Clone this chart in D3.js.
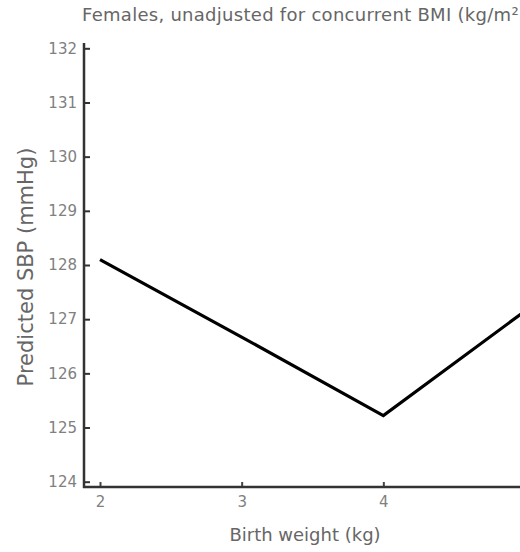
<!DOCTYPE html>
<html>
<head>
<meta charset="utf-8">
<script src="https://cdn.jsdelivr.net/npm/d3@7"></script>
<style>
  html, body { margin: 0; padding: 0; background: #fff; overflow: hidden; }
  svg { display: block; }
</style>
</head>
<body>
<svg id="chart" width="520" height="552"></svg>
<script>
// ---- data ----
const birthWeight = [2, 3, 4, 5];
const predictedSBP = [128.1, 126.67, 125.22, 127.15];
const xTicks = [2, 3, 4, 5];
const yTicks = [124, 125, 126, 127, 128, 129, 130, 131, 132];
const titleText = "Females, unadjusted for concurrent BMI (kg/m\u00B2)";
const xLabel = "Birth weight (kg)";
const yLabel = "Predicted SBP (mmHg)";

const svg = d3.select("#chart");
const font = "'DejaVu Sans', sans-serif";

const x = d3.scaleLinear().domain([2, 5]).range([100, 525]);
const y = d3.scaleLinear().domain([124, 132]).range([481.7, 48.3]);

const axisX0 = 84, axisY0 = 487;

// y axis
const gy = svg.append("g").attr("transform", `translate(${axisX0},0)`)
  .call(d3.axisLeft(y).tickValues(yTicks).tickFormat(d3.format("d")).tickSize(-6).tickPadding(7));
gy.select(".domain").remove();
gy.selectAll(".tick line").attr("stroke", "#333").attr("stroke-width", 2);
gy.selectAll(".tick text").attr("font-family", font).attr("font-size", 15).attr("fill", "#808080");

// x axis
const gx = svg.append("g").attr("transform", `translate(0,${axisY0})`)
  .call(d3.axisBottom(x).tickValues(xTicks).tickFormat(d3.format("d")).tickSize(-5).tickPadding(9));
gx.select(".domain").remove();
gx.selectAll(".tick line").attr("stroke", "#444").attr("stroke-width", 2);
gx.selectAll(".tick text").attr("font-family", font).attr("font-size", 15).attr("fill", "#808080");

// axis lines
svg.append("line").attr("x1", axisX0).attr("x2", axisX0).attr("y1", 43).attr("y2", axisY0 + 1)
  .attr("stroke", "#333").attr("stroke-width", 2.5);
svg.append("line").attr("x1", axisX0 - 1).attr("x2", 520).attr("y1", axisY0).attr("y2", axisY0)
  .attr("stroke", "#333").attr("stroke-width", 2.5);

// data line
const pts = birthWeight.map((d, i) => [d, predictedSBP[i]]);
svg.append("path")
  .datum(pts)
  .attr("fill", "none")
  .attr("stroke", "#000")
  .attr("stroke-width", 3.2)
  .attr("stroke-linejoin", "miter")
  .attr("d", d3.line().x(d => x(d[0])).y(d => y(d[1])));

// title
svg.append("text").attr("x", 82).attr("y", 21)
  .attr("font-family", font).attr("font-size", 18).attr("fill", "#666")
  .attr("letter-spacing", 0.28)
  .text(titleText);

// x label
svg.append("text").attr("x", 305).attr("y", 541).attr("text-anchor", "middle")
  .attr("font-family", font).attr("font-size", 18).attr("fill", "#666")
  .text(xLabel);

// y label
svg.append("text").attr("transform", "translate(33,267) rotate(-90)").attr("text-anchor", "middle")
  .attr("font-family", font).attr("font-size", 21).attr("fill", "#666")
  .text(yLabel);
</script>
</body>
</html>
